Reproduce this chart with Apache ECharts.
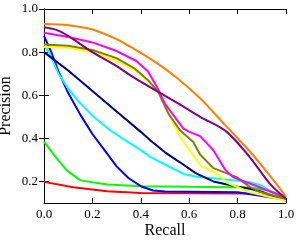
<!DOCTYPE html>
<html><head><meta charset="utf-8">
<script src="https://cdn.jsdelivr.net/npm/echarts@6/dist/echarts.min.js"></script>
<style>html,body{margin:0;padding:0;background:#fff}#c{width:298px;height:249px}</style>
</head><body><div id="c"></div>
<script>
const xTicks = [0, 0.2, 0.4, 0.6, 0.8, 1.0];
const yTicks = [0.2, 0.4, 0.6, 0.8, 1.0];

const red = [[0,0.198],[0.12,0.173],[0.26,0.155],[0.4,0.146],[0.6,0.145],[0.85,0.144],[1.0,0.12]];
const green = [[0,0.385],[0.054,0.305],[0.095,0.25],[0.15,0.205],[0.26,0.186],[0.4,0.178],[0.6,0.175],[0.85,0.172],[0.92,0.16],[1.0,0.13]];
const blue = [[0,0.875],[0.03,0.80],[0.06,0.71],[0.1,0.61],[0.15,0.51],[0.2,0.42],[0.25,0.345],[0.3,0.27],[0.35,0.215],[0.4,0.178],[0.45,0.158],[0.5,0.153],[0.8,0.15],[1.0,0.115]];
const cyan = [[0,0.83],[0.02,0.80],[0.06,0.70],[0.1,0.63],[0.14,0.575],[0.2,0.505],[0.27,0.44],[0.35,0.38],[0.4,0.345],[0.44,0.313],[0.52,0.267],[0.576,0.235],[0.63,0.222],[0.72,0.212],[0.85,0.197],[0.9,0.18],[0.95,0.145],[1.0,0.12]];
const navy = [[0,0.80],[0.1,0.715],[0.2,0.62],[0.3,0.525],[0.4,0.43],[0.44,0.39],[0.5,0.335],[0.56,0.29],[0.63,0.236],[0.7,0.2],[0.8,0.175],[0.85,0.166],[0.9,0.152],[1.0,0.11]];
const yellow = [[0,0.825],[0.1,0.82],[0.2,0.80],[0.3,0.76],[0.377,0.715],[0.43,0.665],[0.473,0.61],[0.528,0.484],[0.548,0.44],[0.562,0.406],[0.617,0.32],[0.645,0.275],[0.713,0.236],[0.755,0.195],[0.85,0.15],[1.0,0.11]];
const olive = [[0,0.835],[0.1,0.83],[0.2,0.81],[0.3,0.772],[0.377,0.722],[0.43,0.67],[0.473,0.615],[0.514,0.515],[0.562,0.437],[0.617,0.383],[0.645,0.325],[0.70,0.262],[0.796,0.22],[0.85,0.175],[0.89,0.152],[1.0,0.12]];
const magenta = [[0,0.89],[0.1,0.87],[0.2,0.845],[0.3,0.805],[0.38,0.76],[0.43,0.71],[0.473,0.625],[0.5,0.56],[0.576,0.445],[0.6,0.43],[0.645,0.41],[0.7,0.345],[0.748,0.255],[0.78,0.22],[0.89,0.173],[1.0,0.125]];
const purple = [[0,0.915],[0.054,0.902],[0.1,0.875],[0.2,0.80],[0.3,0.735],[0.377,0.678],[0.473,0.615],[0.563,0.556],[0.645,0.50],[0.755,0.43],[0.85,0.313],[0.933,0.19],[1.0,0.12]];
const orange = [[0,0.93],[0.1,0.925],[0.2,0.905],[0.3,0.86],[0.356,0.825],[0.445,0.765],[0.55,0.68],[0.65,0.58],[0.75,0.46],[0.85,0.34],[0.92,0.245],[1.0,0.13]];

const seriesDefs = [
  ['red', red, '#ff0000'],
  ['green', green, '#00ff00'],
  ['blue', blue, '#0000ff'],
  ['cyan', cyan, '#00ffff'],
  ['navy', navy, '#000080'],
  ['yellow', yellow, '#ffff00'],
  ['olive', olive, '#808000'],
  ['magenta', magenta, '#ff00ff'],
  ['purple', purple, '#800080'],
  ['orange', orange, '#ff8000']
];

const font = 'Liberation Serif';
const axLine = {show: true, lineStyle: {color: '#000', width: 1}};
const tickIn = {show: true, inside: true, length: 5, lineStyle: {color: '#000'}};

const chart = echarts.init(document.getElementById('c'), null, {renderer: 'canvas'});
chart.setOption({
  animation: false,
  backgroundColor: '#fff',
  grid: {left: 44, right: 12, top: 9, bottom: 46, containLabel: false, outerBoundsMode: 'none'},
  xAxis: [
    {type: 'value', min: 0, max: 1, interval: 0.2, position: 'bottom',
     axisLine: axLine, axisTick: tickIn, splitLine: {show: false},
     axisLabel: {color: '#000', fontFamily: font, fontSize: 13, margin: 5,
       formatter: v => v.toFixed(1)},
     name: 'Recall', nameLocation: 'middle', nameGap: 20, nameMoveOverlap: false,
     nameTextStyle: {color: '#000', fontFamily: font, fontSize: 16}},
    {type: 'value', min: 0, max: 1, interval: 0.2, position: 'top',
     axisLine: axLine, axisTick: tickIn, splitLine: {show: false},
     axisLabel: {show: false}}
  ],
  yAxis: [
    {type: 'value', min: 0.1, max: 1.0, position: 'left',
     axisLine: axLine, splitLine: {show: false},
     axisTick: Object.assign({customValues: yTicks}, tickIn),
     axisLabel: {customValues: yTicks, color: '#000', fontFamily: font, fontSize: 13, margin: 6,
       formatter: v => Number(v).toFixed(1)},
     name: 'Precision', nameLocation: 'middle', nameGap: 30, nameRotate: 90, nameMoveOverlap: false,
     nameTextStyle: {color: '#000', fontFamily: font, fontSize: 16}},
    {type: 'value', min: 0.1, max: 1.0, position: 'right',
     axisLine: axLine, splitLine: {show: false},
     axisTick: Object.assign({customValues: yTicks}, tickIn),
     axisLabel: {show: false}}
  ],
  series: seriesDefs.map(([name, data, color]) => ({
    name, type: 'line', data, xAxisIndex: 0, yAxisIndex: 0,
    showSymbol: false, smooth: name === 'orange' || name === 'purple' ? 0.3 : false,
    lineStyle: {color, width: 2}, itemStyle: {color}
  }))
});
</script></body></html>
